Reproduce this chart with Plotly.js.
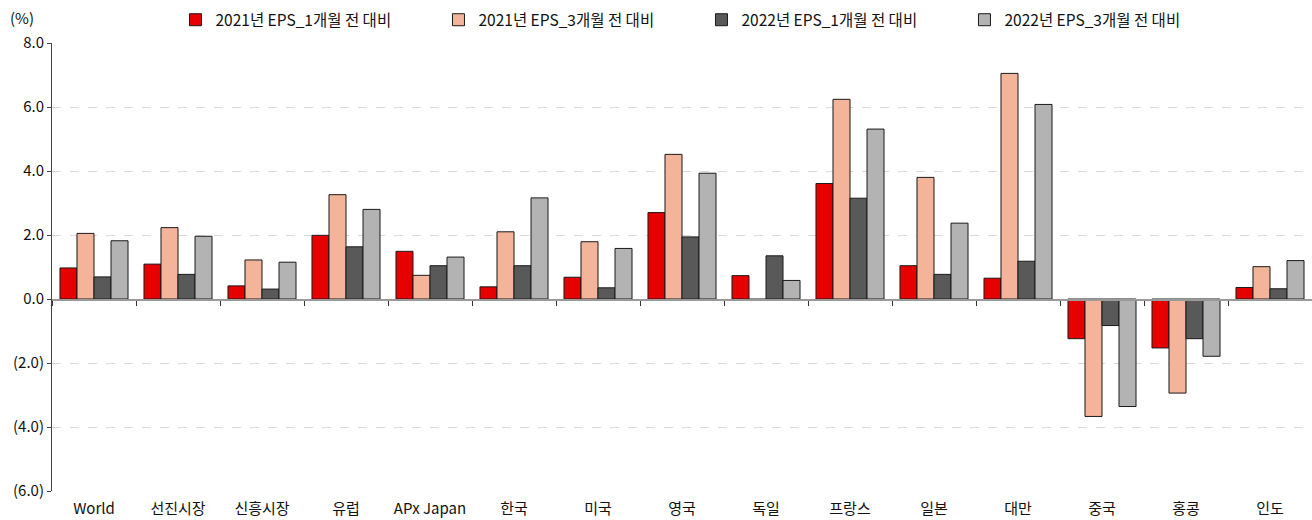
<!DOCTYPE html>
<html>
<head>
<meta charset="utf-8">
<script src="https://cdn.plot.ly/plotly-3.0.1.min.js"></script>
<style>
body { margin: 0; background: #fff; }
#graph { width: 1312px; height: 520px; }
</style>
</head>
<body>
<div id="graph"></div>
<script>
// catégories (marchés)
var categories = ['World', '선진시장', '신흥시장', '유럽', 'APx Japan', '한국', '미국', '영국', '독일', '프랑스', '일본', '대만', '중국', '홍콩', '인도'];

// séries EPS (%)
var eps21_1m = [0.97, 1.09, 0.41, 1.99, 1.49, 0.38, 0.68, 2.70, 0.73, 3.61, 1.04, 0.65, -1.24, -1.53, 0.36];
var eps21_3m = [2.05, 2.23, 1.22, 3.26, 0.74, 2.10, 1.79, 4.52, -0.04, 6.24, 3.80, 7.05, -3.67, -2.94, 1.01];
var eps22_1m = [0.69, 0.77, 0.31, 1.63, 1.04, 1.04, 0.35, 1.94, 1.35, 3.15, 0.77, 1.18, -0.83, -1.24, 0.32];
var eps22_3m = [1.82, 1.96, 1.15, 2.80, 1.31, 3.16, 1.58, 3.93, 0.58, 5.31, 2.37, 6.08, -3.36, -1.79, 1.20];

var noms = ['2021년 EPS_1개월 전 대비', '2021년 EPS_3개월 전 대비', '2022년 EPS_1개월 전 대비', '2022년 EPS_3개월 전 대비'];
var couleurs = ['#e60000', '#f4b49a', '#595959', '#b3b3b3'];

// graduations de l'axe y
var yTicks = [8, 6, 4, 2, 0, -2, -4, -6];
var yTickText = ['8.0', '6.0', '4.0', '2.0', '0.0', '(2.0)', '(4.0)', '(6.0)'];

var police = 'Noto Sans CJK KR, Noto Sans, sans-serif';

var series = [eps21_1m, eps21_3m, eps22_1m, eps22_3m];
var data = [];
series.forEach(function(vals, i) {
	data.push({
		type: 'bar',
		x: categories,
		y: vals,
		name: noms[i],
		marker: { color: couleurs[i], line: { color: '#1a1a1a', width: 1 } },
		hoverinfo: 'x+y+name'
	});
});
// trace invisible pour l'axe du zéro (ticks entre catégories)
data.push({
	type: 'scatter',
	x: categories,
	y: categories.map(function() { return null; }),
	xaxis: 'x2',
	showlegend: false,
	hoverinfo: 'skip'
});

var layout = {
	width: 1312,
	height: 520,
	margin: { l: 52, r: 0, t: 43, b: 29 },
	paper_bgcolor: '#fff',
	plot_bgcolor: '#fff',
	font: { family: police, size: 15, color: '#111' },
	barmode: 'group',
	bargap: 0.19,
	bargroupgap: 0,
	showlegend: true,
	legend: {
		orientation: 'h',
		x: 0.098,
		y: 1.051,
		xanchor: 'left',
		yanchor: 'middle',
		entrywidth: 218,
		entrywidthmode: 'pixels',
		font: { family: police, size: 15.5, color: '#111' },
		traceorder: 'normal'
	},
	xaxis: {
		type: 'category',
		categoryarray: categories,
		range: [-0.5, 14.5],
		showgrid: false,
		showline: false,
		zeroline: false,
		ticks: 'outside',
		ticklen: 4,
		tickcolor: 'rgba(0,0,0,0)',
		tickfont: { family: police, size: 15, color: '#111' },
		fixedrange: true
	},
	xaxis2: {
		type: 'category',
		categoryarray: categories,
		overlaying: 'x',
		matches: 'x',
		anchor: 'free',
		position: 6 / 14,
		side: 'bottom',
		showline: true,
		linecolor: '#9a9a9a',
		linewidth: 1.5,
		ticks: 'outside',
		tickson: 'boundaries',
		ticklen: 5,
		tickcolor: '#333',
		showticklabels: false,
		showgrid: false,
		zeroline: false
	},
	yaxis: {
		range: [-6, 8],
		tickvals: yTicks,
		ticktext: yTickText,
		showline: true,
		linecolor: '#444',
		linewidth: 1,
		ticks: 'outside',
		ticklen: 4,
		tickcolor: '#444',
		showgrid: true,
		gridcolor: '#d9d9d9',
		griddash: 'dash',
		gridwidth: 1,
		zeroline: false,
		tickfont: { family: police, size: 15, color: '#111' },
		fixedrange: true
	},
	annotations: [{
		text: '(%)',
		xref: 'paper', yref: 'paper',
		x: -0.035, y: 1.056,
		xanchor: 'left', yanchor: 'middle',
		showarrow: false,
		font: { family: police, size: 15, color: '#111' }
	}]
};

Plotly.newPlot('graph', data, layout, { displayModeBar: false, staticPlot: true });
</script>
</body>
</html>
